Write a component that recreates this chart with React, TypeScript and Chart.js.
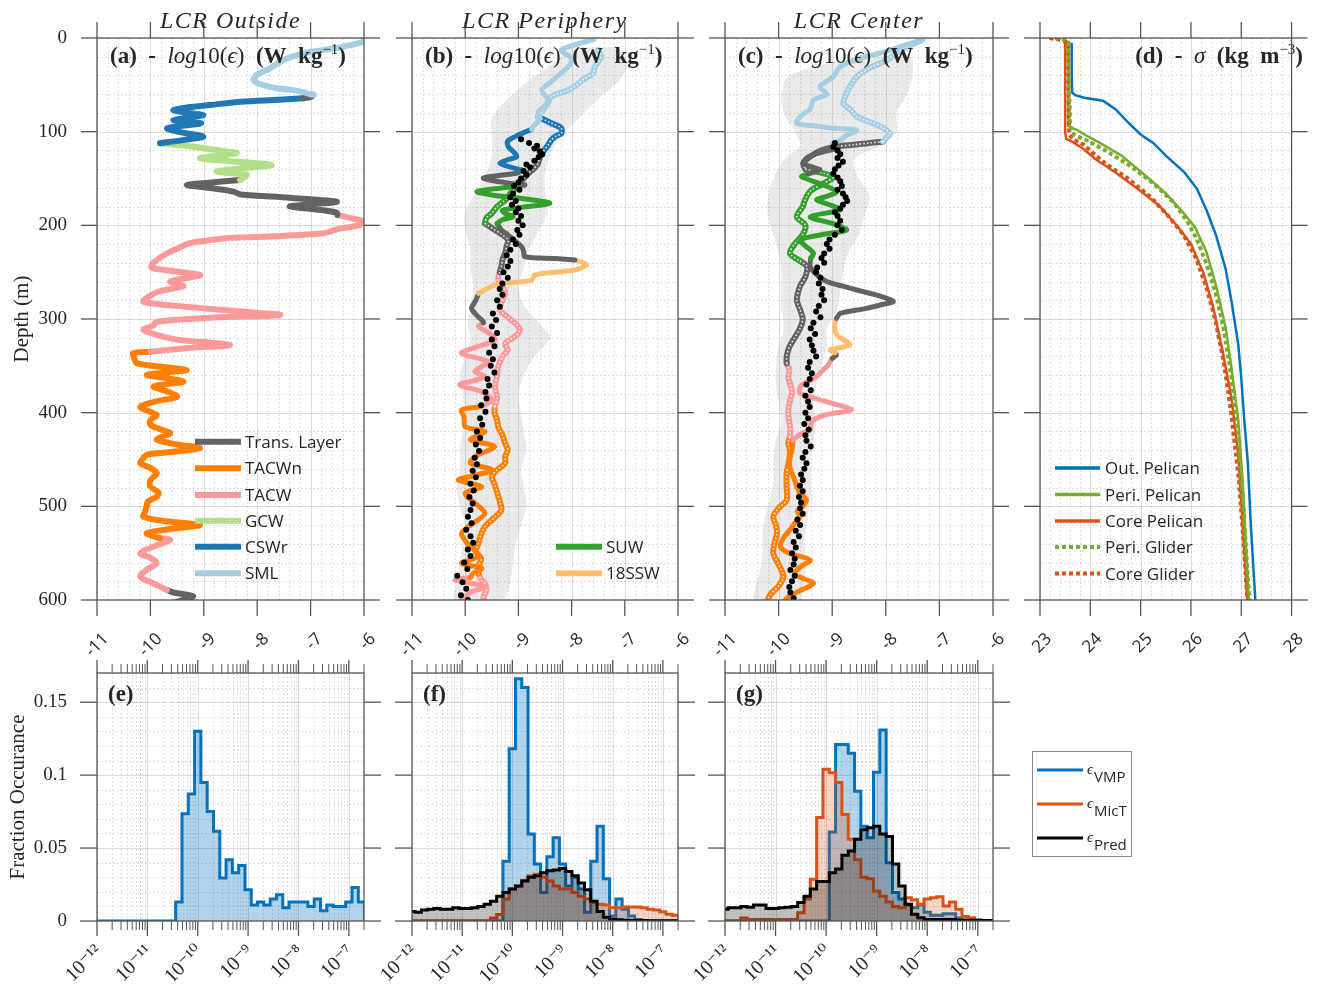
import React, { useEffect, useRef } from 'react';
import { Chart, registerables } from 'chart.js';

Chart.register(...registerables);

const W = 1327;
const H = 995;
const SERIF = "'Liberation Serif', 'DejaVu Serif', serif";
const SANS = "'Open Sans', 'Noto Sans', sans-serif";
const TEXT = '#262626';
const AXIS = '#555555';
const GRID_MAJOR = 'rgba(0,0,0,0.14)';
const GRID_MINOR = 'rgba(0,0,0,0.13)';

// water-mass colours
const C_TRANS = '#636363';
const C_TACWN = '#ff7f00';
const C_TACW = '#fb9a99';
const C_GCW = '#b2df8a';
const C_CSWR = '#1f78b4';
const C_SML = '#a6cee3';
const C_SUW = '#33a02c';
const C_SSW = '#fdbf6f';
const C_BLUE = '#0072BD';
const C_GREEN = '#77AC30';
const C_RED = '#D95319';

// ---------- axis ticks ----------
const EPS_TICKS = [-11, -10, -9, -8, -7, -6];
const DEPTH_TICKS = [0, 100, 200, 300, 400, 500, 600];
const SIGMA_TICKS = [23, 24, 25, 26, 27, 28];
const DECADE_TICKS = [-12, -11, -10, -9, -8, -7];
const FRAC_TICKS = [0, 0.05, 0.1, 0.15];

// ---------- panel (a) LCR Outside ----------
const A_SML_D = [4, 9.3, 12.8, 16.4, 23.5, 32.4, 39.5, 44.8, 49.1, 53.7, 56.2, 60.8];
const A_SML_E = [-6.0, -6.39, -6.76, -7.14, -7.51, -7.76, -8.01, -8.07, -7.95, -7.64, -7.26, -6.95];
const A_TR1_D = [60.8, 62.5, 64.4];
const A_TR1_E = [-6.95, -6.98, -7.14];
const A_CSWR_D = [64.4, 66, 68, 71.5, 74, 76.9, 79.5, 82.2, 85, 87.5, 89.5, 91, 93.5, 96.4, 100.5, 105.3, 109, 112.4];
const A_CSWR_E = [-7.14, -7.6, -8.3, -8.88, -9.3, -9.57, -9.35, -9.01, -9.3, -9.57, -9.35, -9.05, -9.35, -9.69, -9.45, -9.01, -9.4, -9.82];
const A_GCW_D = [112.4, 116, 120, 123, 126, 128.5, 131.5, 135.6, 139, 142.7, 146, 149, 151.6];
const A_GCW_E = [-9.82, -9.2, -8.7, -8.38, -8.8, -9.07, -8.5, -7.73, -8.3, -8.76, -8.2, -8.25, -8.32];
const A_TR2_D = [151.6, 154.5, 157, 160, 164, 167, 170.5, 174.7, 177.5, 180, 183, 186.5, 189];
const A_TR2_E = [-8.32, -8.9, -9.32, -8.9, -8.45, -8.3, -7.4, -6.51, -7.0, -7.39, -6.9, -6.51, -6.5];
const A_TACW1_D = [189, 193, 196, 200, 204, 208.5, 212, 214, 216, 219, 225, 230, 236, 240.5, 245, 248, 253, 257, 260, 263, 265, 270, 275, 281.5, 286, 292, 295.7, 298.5, 302.9, 307, 311.7, 317, 322, 327.7, 331, 335];
const A_TACW1_E = [-6.5, -6.2, -6.0, -6.1, -6.5, -6.76, -7.8, -8.63, -8.9, -9.26, -9.5, -9.69, -9.85, -9.95, -9.98, -9.7, -9.07, -9.4, -9.63, -9.5, -9.38, -9.8, -10.0, -10.13, -9.5, -8.3, -7.57, -8.8, -9.88, -9.95, -10.13, -9.88, -9.5, -8.51, -9.3, -10.0];
const A_TACWN_D = [335, 336.6, 342, 347, 351, 354.4, 357, 359.8, 363, 366.9, 369.5, 372.2, 377, 383, 388, 393.6, 398, 402.5, 408, 413, 418, 422, 426, 429, 434, 438, 442, 445, 450, 454, 459, 464.7, 472, 479, 485, 489.7, 495, 500, 506, 511, 516, 520, 524, 528.8, 534];
const A_TACWN_E = [-10.0, -10.32, -10.3, -10.26, -9.8, -9.32, -9.7, -10.07, -9.7, -9.38, -9.7, -9.94, -9.7, -9.5, -9.9, -10.19, -10.05, -9.88, -10.0, -10.0, -9.8, -9.63, -9.8, -9.88, -9.5, -9.07, -9.6, -10.07, -10.15, -10.19, -10.0, -9.88, -10.0, -10.0, -9.85, -9.88, -10.05, -10.07, -10.1, -10.13, -9.7, -9.07, -9.6, -10.07, -9.82];
const A_TACW2_D = [534, 536, 542, 550, 555, 560.8, 567, 575, 582, 589.3];
const A_TACW2_E = [-9.82, -9.63, -9.9, -10.19, -10.0, -9.88, -10.05, -10.19, -9.95, -9.69];
const A_TR3_D = [589.3, 592, 596, 600, 604];
const A_TR3_E = [-9.69, -9.57, -9.2, -9.4, -9.63];

// ---------- panel (b) LCR Periphery ----------
const B_SML_D = [1.4, 12.8, 22, 30.6, 40, 46.6, 55.5, 66.2, 72, 78.6, 86, 94.7, 97.5];
const B_SML_E = [-7.58, -8.19, -8.0, -8.06, -8.25, -8.38, -8.56, -8.44, -8.5, -8.63, -8.6, -8.72, -8.75];
const B_CSWR_D = [97.5, 101, 105.3, 110, 116, 121, 126.7, 130, 133.8, 137, 140.9];
const B_CSWR_E = [-8.75, -8.9, -9.06, -9.2, -9.19, -9.1, -9.03, -9.2, -9.35, -9.2, -8.94];
const B_TR1_D = [140.9, 143.8, 147, 149.8, 154.4, 157];
const B_TR1_E = [-8.94, -9.0, -9.4, -9.66, -9.25, -8.88];
const B_SUW_D = [157, 160, 164, 167.6, 172.2, 176.5, 180.8, 184, 187.2, 190.8, 194, 198];
const B_SUW_E = [-8.88, -9.3, -9.78, -9.5, -8.81, -8.41, -8.94, -9.3, -9.25, -9.1, -9.3, -9.4];
const B_TR2_D = [198, 205, 210, 215, 222.8, 228, 233.5, 235.5, 237];
const B_TR2_E = [-9.4, -9.32, -9.2, -9.1, -8.94, -8.9, -8.88, -8.3, -7.94];
const B_SSW_D = [237, 240, 242.3, 245, 247.7, 250, 253, 258.4, 261, 263.7, 268, 272.6];
const B_SSW_E = [-7.94, -7.78, -7.72, -7.8, -7.94, -8.3, -8.69, -8.75, -9.1, -9.44, -9.6, -9.75];
const B_TR3_D = [272.6, 280, 288.6, 295, 302.8, 304];
const B_TR3_E = [-9.75, -9.8, -9.88, -9.8, -9.66, -9.66];
const B_TACW1_D = [304, 308, 315, 322.4, 330, 336.6, 345.5, 351, 356.2, 361.6, 366, 370.4, 377.6, 386.5, 393.6];
const B_TACW1_E = [-9.66, -9.75, -9.55, -9.44, -9.8, -10.07, -9.57, -9.7, -9.82, -9.63, -9.85, -10.1, -9.69, -9.5, -9.69];
const B_TACWN_D = [393.6, 397, 405, 415, 420, 429, 436, 447, 454, 461, 468, 472, 479, 486, 495, 507.5, 518, 528.8, 540, 553, 560.8, 566, 571.5, 576];
const B_TACWN_E = [-9.69, -10.07, -10.02, -10.0, -9.63, -9.9, -9.45, -9.82, -9.9, -9.5, -9.9, -10.13, -9.69, -10.0, -9.85, -9.63, -9.85, -10.07, -9.95, -9.75, -10.07, -9.69, -9.85, -9.9];
const B_TACW2_D = [576, 578.6, 585.8, 592, 601.8];
const B_TACW2_E = [-9.9, -10.19, -9.63, -9.9, -10.1];

const BG_SML_D = [12.8, 20, 30.6, 38, 43, 50, 55.5, 62.6, 70, 78, 84];
const BG_SML_E = [-7.5, -7.45, -7.56, -7.6, -7.75, -7.9, -8.06, -8.38, -8.45, -8.55, -8.63];
const BG_CSWR_D = [84, 91, 96, 101.8, 105, 108.9, 115, 123];
const BG_CSWR_E = [-8.63, -8.38, -8.2, -8.19, -8.3, -8.38, -8.45, -8.56];
const BG_TR1_D = [123, 128, 133.8, 139, 144.5, 150, 156];
const BG_TR1_E = [-8.56, -8.6, -8.63, -8.7, -8.81, -8.9, -9.0];
const BG_SUW_D = [156, 160, 166, 173, 180, 187.2, 192, 197.9];
const BG_SUW_E = [-9.0, -9.06, -9.15, -9.25, -9.4, -9.5, -9.6, -9.63];
const BG_TR2_D = [197.9, 205, 210, 215.7, 222, 230, 237, 244, 250];
const BG_TR2_E = [-9.63, -9.44, -9.3, -9.19, -9.22, -9.25, -9.3, -9.32, -9.35];
const BG_TACW1_D = [250, 258.4, 265, 272.6, 280, 290, 298, 304.6, 310, 315.3, 320, 326, 333, 340, 350.9, 360, 372.2, 385, 393];
const BG_TACW1_E = [-9.35, -9.38, -9.3, -9.25, -9.3, -9.35, -9.2, -9.06, -8.98, -9.0, -9.1, -9.25, -9.2, -9.3, -9.38, -9.4, -9.44, -9.4, -9.44];
const BG_TACWN_D = [393, 400, 408, 415, 424, 432.7, 440, 447, 454, 461, 468.3, 476, 485, 495, 503.9, 512, 521.7, 530, 539.5, 548, 556, 564, 571.5];
const BG_TACWN_E = [-9.44, -9.45, -9.4, -9.38, -9.3, -9.25, -9.2, -9.25, -9.25, -9.4, -9.5, -9.45, -9.4, -9.35, -9.32, -9.45, -9.63, -9.7, -9.75, -9.8, -9.7, -9.75, -9.75];
const BG_TACW2_D = [571.5, 578, 582.2, 590, 596, 601.8];
const BG_TACW2_E = [-9.75, -9.7, -9.63, -9.6, -9.65, -9.66];

const B_BAND_D = [10, 25, 45, 65, 85, 105, 125, 145, 165, 185, 205, 225, 245, 265, 285, 305, 320, 340, 360, 380, 400, 420, 440, 460, 480, 500, 520, 540, 560, 580, 600];
const B_BAND_LO = [-8.0, -8.3, -8.8, -9.2, -9.5, -9.5, -9.5, -9.6, -9.8, -10.0, -10.0, -9.9, -9.9, -9.85, -9.9, -9.95, -9.9, -10.0, -10.1, -10.05, -10.0, -10.05, -10.1, -10.1, -10.15, -10.1, -10.0, -10.05, -10.1, -10.15, -10.2];
const B_BAND_HI = [-7.2, -6.95, -7.1, -7.5, -7.85, -8.2, -8.4, -8.5, -8.5, -8.45, -8.6, -8.8, -8.9, -9.0, -8.9, -8.6, -8.4, -8.7, -8.9, -9.0, -8.95, -8.9, -8.85, -8.95, -8.9, -8.85, -8.95, -9.05, -9.1, -9.15, -9.3];

const B_DOT_D = [108, 112, 115, 118, 121, 124, 127, 131, 135, 138, 142, 146, 150, 154, 158, 162, 166, 170, 174, 178, 182, 186, 190, 195, 200, 205, 210, 215, 220, 226, 232, 238, 244, 250, 256, 262, 268, 274, 280, 287, 294, 301, 308, 315, 322, 329, 336, 343, 350, 357, 364, 371, 378, 385, 392, 399, 406, 413, 420, 427, 434, 441, 448, 455, 462, 469, 476, 483, 490, 497, 504, 511, 518, 525, 532, 539, 546, 553, 560, 567, 574, 581, 588, 595, 600];
const B_DOT_E = [-8.95, -8.8, -8.65, -8.7, -8.6, -8.55, -8.62, -8.7, -8.85, -8.78, -8.9, -8.85, -8.95, -9.0, -9.08, -8.98, -9.1, -9.15, -9.05, -9.12, -9.0, -9.05, -8.95, -9.0, -8.92, -9.02, -8.98, -9.1, -9.05, -9.15, -9.22, -9.15, -9.2, -9.28, -9.2, -9.3, -9.35, -9.3, -9.4, -9.35, -9.48, -9.42, -9.5, -9.4, -9.5, -9.45, -9.55, -9.48, -9.52, -9.45, -9.58, -9.55, -9.62, -9.6, -9.7, -9.62, -9.72, -9.68, -9.78, -9.72, -9.8, -9.74, -9.82, -9.78, -9.86, -9.8, -9.9, -9.84, -9.92, -9.86, -9.9, -9.95, -9.88, -9.98, -9.9, -9.85, -9.95, -9.9, -10.02, -9.96, -10.15, -10.05, -9.98, -10.08, -9.95];

// ---------- panel (c) LCR Center ----------
const C_SML_D = [1.4, 9.2, 16, 21.7, 30.6, 41.3, 52, 60, 66.2, 75, 84, 91.1, 94, 96.4, 98.2, 103, 108.9, 112.5];
const C_SML_E = [-7.3, -7.73, -8.1, -8.48, -8.85, -8.98, -9.23, -9.1, -9.35, -9.4, -9.6, -9.66, -9.3, -8.98, -8.54, -8.7, -8.85, -8.98];
const C_CSWR_D = [112.5, 115];
const C_CSWR_E = [-8.98, -8.95];
const C_TR1_D = [115, 117.8, 122, 127, 133.8, 138, 140.9, 145];
const C_TR1_E = [-8.95, -8.92, -9.2, -9.45, -9.54, -9.35, -9.23, -9.45];
const C_SUW_D = [145, 148, 156, 164.1, 169, 173, 178, 183.6, 190.8, 198, 205, 210, 215.7, 222, 229.9, 235];
const C_SUW_E = [-9.45, -9.57, -9.2, -8.92, -9.1, -9.29, -9.05, -8.85, -9.41, -9.0, -8.73, -9.2, -9.6, -9.5, -9.35, -9.4];
const C_TR2_D = [235, 244.1, 252, 260, 265, 269, 274, 278, 281.5, 285, 288.6, 294, 299.3];
const C_TR2_E = [-9.4, -9.41, -9.3, -9.1, -8.8, -8.54, -8.2, -7.98, -7.86, -8.1, -8.36, -8.85, -8.92];
const C_SSW_D = [299.3, 305, 312, 318, 322, 327.7, 333, 336];
const C_SSW_E = [-8.92, -8.95, -8.95, -8.9, -8.79, -8.67, -9.04, -8.95];
const C_TR3_D = [336, 338.4, 342];
const C_TR3_E = [-8.95, -8.92, -9.0];
const C_TACW_D = [342, 350.9, 356, 361.6, 368, 373, 379.3, 385, 390, 397.1, 402, 407.8, 413, 418.5, 422, 425.6, 429.2];
const C_TACW_E = [-9.0, -9.1, -9.2, -9.29, -9.5, -9.6, -9.6, -9.3, -9.0, -8.64, -9.1, -9.35, -9.4, -9.41, -9.55, -9.66, -9.73];
const C_TACWN_D = [429.2, 440, 450, 457.6, 465, 472, 479, 486, 493.2, 500, 505, 511, 518, 525.3, 533, 543, 550, 557.3, 565, 572, 578, 582.2, 590, 596, 601.8];
const C_TACWN_E = [-9.73, -9.75, -9.8, -9.79, -9.75, -9.7, -9.66, -9.6, -9.48, -9.55, -9.65, -9.6, -9.7, -9.79, -9.9, -9.97, -9.8, -9.41, -9.6, -9.7, -9.5, -9.35, -9.6, -9.8, -9.91];

const CG_SML_D = [3, 12, 23.5, 32, 41.3, 50, 59, 69.7, 77, 84, 91.1, 96, 101.8, 106, 110.7];
const CG_SML_E = [-7.35, -7.7, -7.98, -8.3, -8.54, -8.65, -8.73, -8.79, -8.65, -8.54, -8.23, -8.05, -7.92, -7.98, -8.05];
const CG_TR1_D = [110.7, 112, 114, 116, 120, 126.7, 133.8, 140];
const CG_TR1_E = [-8.05, -8.3, -8.6, -8.92, -9.2, -9.41, -9.54, -9.5];
const CG_SUW_D = [140, 148, 155.2, 163, 172, 180, 190.8, 200, 210, 220, 229.9, 238];
const CG_SUW_E = [-9.5, -8.98, -9.16, -9.4, -9.5, -9.55, -9.66, -9.5, -9.55, -9.7, -9.79, -9.6];
const CG_TR2_D = [238, 244.1, 255, 265, 279.7, 290, 300, 310, 320, 330, 340, 347.3];
const CG_TR2_E = [-9.6, -9.47, -9.5, -9.6, -9.66, -9.6, -9.55, -9.6, -9.7, -9.8, -9.85, -9.85];
const CG_TACW_D = [347.3, 355, 362, 368.7, 378, 390, 400, 410, 418, 425.6];
const CG_TACW_E = [-9.85, -9.8, -9.82, -9.79, -9.75, -9.8, -9.82, -9.8, -9.78, -9.79];
const CG_TACWN_D = [425.6, 432, 440, 450, 464.7, 478, 493.2, 502, 511, 520, 528.8, 540, 550, 562, 575, 585, 594, 601.8];
const CG_TACWN_E = [-9.79, -9.82, -9.79, -9.8, -9.85, -9.85, -9.85, -10.0, -10.1, -10.05, -10.03, -10.08, -10.1, -10.0, -9.91, -10.0, -10.15, -10.22];

const C_BAND_D = [20, 40, 60, 80, 100, 115, 130, 150, 170, 190, 210, 230, 250, 270, 290, 310, 330, 350, 370, 390, 410, 430, 450, 470, 490, 510, 530, 550, 570, 590, 600];
const C_BAND_LO = [-8.6, -9.8, -9.95, -9.9, -9.7, -9.6, -9.9, -10.1, -10.2, -10.2, -10.1, -10.0, -9.95, -9.95, -9.95, -9.9, -10.0, -10.05, -10.05, -10.0, -9.95, -10.05, -10.1, -10.1, -10.15, -10.25, -10.3, -10.3, -10.35, -10.45, -10.45];
const C_BAND_HI = [-7.5, -7.5, -7.6, -7.8, -7.8, -8.1, -8.6, -8.5, -8.3, -8.4, -8.5, -8.7, -8.8, -8.85, -8.9, -9.1, -9.1, -9.2, -9.3, -9.35, -9.3, -9.35, -9.4, -9.4, -9.4, -9.45, -9.5, -9.5, -9.5, -9.55, -9.6];

const C_DOT_D = [112, 116, 120, 124, 128, 132, 136, 140, 145, 149, 153, 158, 162, 166, 170, 174, 178, 182, 186, 190, 195, 200, 205, 210, 215, 220, 225, 230, 235, 240, 245, 250, 256, 262, 268, 274, 280, 286, 292, 298, 304, 310, 316, 322, 328, 334, 340, 346, 352, 358, 364, 370, 376, 382, 388, 394, 400, 406, 412, 418, 424, 430, 436, 442, 448, 454, 460, 466, 472, 478, 484, 490, 496, 502, 508, 514, 520, 526, 532, 538, 544, 550, 556, 562, 568, 574, 580, 586, 592, 598];
const C_DOT_E = [-8.95, -8.98, -8.9, -8.85, -8.9, -8.8, -8.88, -8.95, -8.98, -8.9, -8.85, -8.82, -8.9, -8.8, -8.75, -8.72, -8.8, -8.85, -8.95, -8.9, -8.85, -8.9, -8.82, -8.95, -9.05, -9.1, -9.05, -9.15, -9.2, -9.15, -9.28, -9.3, -9.22, -9.25, -9.18, -9.2, -9.15, -9.25, -9.3, -9.22, -9.35, -9.4, -9.32, -9.42, -9.38, -9.35, -9.3, -9.42, -9.45, -9.38, -9.42, -9.48, -9.4, -9.5, -9.45, -9.42, -9.5, -9.45, -9.52, -9.44, -9.5, -9.48, -9.4, -9.5, -9.55, -9.48, -9.52, -9.58, -9.55, -9.6, -9.55, -9.62, -9.58, -9.6, -9.55, -9.65, -9.6, -9.68, -9.62, -9.72, -9.68, -9.75, -9.7, -9.72, -9.78, -9.7, -9.75, -9.8, -9.78, -9.72];

// ---------- panel (d) sigma ----------
const D_OUT_D = [5, 20, 40, 58, 61, 63.7, 67, 76, 90, 103, 112, 125.6, 143.5, 161, 184, 210.8, 246.6, 282.5, 327, 363, 408, 453, 520, 600];
const D_OUT_S = [23.63, 23.63, 23.63, 23.64, 23.7, 23.88, 24.25, 24.5, 24.75, 25.0, 25.25, 25.5, 25.87, 26.12, 26.31, 26.5, 26.69, 26.81, 26.94, 27.0, 27.06, 27.13, 27.19, 27.28];
const D_PERI_D = [3, 20, 50, 80, 94, 98.7, 105, 112, 125.6, 148, 166, 188, 202, 228.7, 264.6, 309, 354, 408, 475, 600];
const D_PERI_S = [23.56, 23.56, 23.56, 23.56, 23.57, 23.75, 23.95, 24.19, 24.62, 25.12, 25.5, 25.87, 26.08, 26.31, 26.5, 26.69, 26.81, 26.94, 27.03, 27.15];
const D_CORE_D = [3, 20, 60, 100, 107.6, 110, 118, 130, 143.5, 161, 179, 202, 219.7, 251, 287, 332, 385.6, 444, 520, 600];
const D_CORE_S = [23.5, 23.5, 23.5, 23.5, 23.52, 23.62, 23.85, 24.12, 24.5, 24.94, 25.37, 25.75, 26.0, 26.25, 26.44, 26.62, 26.81, 26.94, 27.03, 27.12];
const D_PERIG_D = [0, 2, 5, 30, 60, 90, 100, 104, 110, 120, 135, 155, 175, 195, 215, 240, 270, 310, 360, 420, 500, 600];
const D_PERIG_S = [23.3, 23.5, 23.56, 23.57, 23.58, 23.6, 23.62, 23.7, 23.95, 24.3, 24.75, 25.25, 25.65, 25.92, 26.12, 26.3, 26.48, 26.65, 26.8, 26.93, 27.04, 27.16];
const D_COREG_D = [0, 2, 5, 40, 80, 103, 108, 114, 125, 134.5, 150, 170, 190, 210, 235, 265, 300, 345, 400, 470, 540, 600];
const D_COREG_S = [23.19, 23.4, 23.56, 23.56, 23.57, 23.58, 23.65, 23.87, 24.1, 24.31, 24.75, 25.2, 25.55, 25.85, 26.1, 26.3, 26.48, 26.65, 26.8, 26.95, 27.05, 27.12];

// ---------- histograms (e)-(g): log10 bins of width 0.125 starting at 10^-12.0625 ----------
const BIN_START = -12.0625;
const BIN_WIDTH = 0.125;
const E_VMP = [0, 0, 0, 0, 0, 0, 0, 0, 0, 0, 0, 0, 0, 0.013, 0.0735, 0.087, 0.13, 0.095, 0.075, 0.0615, 0.0295, 0.042, 0.033, 0.038, 0.0215, 0.011, 0.013, 0.011, 0.015, 0.018, 0.009, 0.013, 0.013, 0.013, 0.01, 0.015, 0.007, 0.011, 0.01, 0.01, 0.013, 0.023, 0.013];
const F_VMP = [0, 0, 0, 0, 0, 0, 0, 0, 0, 0, 0, 0, 0, 0, 0, 0.041, 0.118, 0.166, 0.16, 0.0596, 0.039, 0.0195, 0.044, 0.057, 0.039, 0.024, 0.03, 0.022, 0.006, 0.041, 0.065, 0.029, 0.0035, 0.015, 0.008, 0.0035, 0.001, 0, 0, 0, 0, 0, 0];
const F_MICT = [0, 0, 0, 0, 0, 0, 0, 0, 0, 0, 0, 0, 0, 0.002, 0.0045, 0.015, 0.022, 0.024, 0.028, 0.031, 0.032, 0.03, 0.0275, 0.024, 0.022, 0.022, 0.0195, 0.017, 0.015, 0.0126, 0.0115, 0.011, 0.009, 0.009, 0.0096, 0.0096, 0.0096, 0.009, 0.008, 0.0075, 0.0064, 0.0046, 0.004];
const F_PRED = [0.0065, 0.006, 0.0075, 0.008, 0.0085, 0.008, 0.008, 0.009, 0.0085, 0.0085, 0.009, 0.01, 0.0115, 0.0135, 0.017, 0.0195, 0.022, 0.024, 0.0275, 0.03, 0.031, 0.033, 0.0345, 0.035, 0.036, 0.034, 0.031, 0.026, 0.0215, 0.0135, 0.0065, 0.0025, 0.0012, 0.0008, 0.0005, 0.0004, 0.0003, 0.0003, 0.0002, 0.0002, 0.0002, 0.0001, 0.0001];
const G_VMP = [0, 0, 0, 0, 0, 0, 0, 0, 0, 0, 0, 0, 0, 0, 0, 0, 0, 0.061, 0.121, 0.121, 0.115, 0.089, 0.065, 0.057, 0.102, 0.131, 0.04, 0.0195, 0.015, 0.011, 0.009, 0.011, 0.006, 0.004, 0.004, 0.005, 0.005, 0.002, 0.0005, 0, 0, 0, 0];
const G_MICT = [0, 0, 0, 0.002, 0.001, 0.001, 0.001, 0.001, 0.0008, 0.001, 0.001, 0.001, 0.0057, 0.015, 0.0287, 0.071, 0.104, 0.1016, 0.095, 0.073, 0.056, 0.042, 0.03, 0.029, 0.0206, 0.017, 0.013, 0.0099, 0.009, 0.016, 0.0145, 0.0115, 0.015, 0.016, 0.0167, 0.0103, 0.013, 0.008, 0.003, 0.0023, 0.0007, 0, 0];
const G_PRED = [0.008, 0.009, 0.009, 0.0099, 0.0095, 0.011, 0.011, 0.0085, 0.0085, 0.009, 0.0095, 0.0099, 0.0126, 0.017, 0.022, 0.027, 0.027, 0.033, 0.0356, 0.045, 0.048, 0.056, 0.0626, 0.064, 0.065, 0.0596, 0.058, 0.039, 0.024, 0.0115, 0.0046, 0.0023, 0.001, 0.001, 0.001, 0.001, 0.001, 0.0005, 0.0005, 0.0005, 0.0005, 0.0003, 0.0003];

// ---------- helpers ----------
type Pt = { x: number; y: number };
const prof = (depth: number[], vals: number[]): Pt[] => depth.map((d, i) => ({ x: vals[i], y: d }));

const solid = (depth: number[], vals: number[], color: string, width = 5, order = 3): any => ({
  data: prof(depth, vals), borderColor: color, borderWidth: width, pointRadius: 0, tension: 0.3,
  borderCapStyle: 'round', borderJoinStyle: 'round', fill: false, order,
});
const beads = (depth: number[], vals: number[], color: string): any[] => [
  { data: prof(depth, vals), borderColor: color, borderWidth: 6, pointRadius: 0, tension: 0.3, borderCapStyle: 'round', borderJoinStyle: 'round', fill: false, order: 7 },
  { data: prof(depth, vals), borderColor: 'rgba(255,255,255,0.85)', borderWidth: 1.6, borderDash: [1.5, 2.2], pointRadius: 0, tension: 0.3, fill: false, order: 6 },
];
const band = (depth: number[], lo: number[], hi: number[]): any => ({
  data: [...prof(depth, lo), ...prof([...depth].reverse(), [...hi].reverse())],
  borderWidth: 0, borderColor: 'rgba(0,0,0,0)', backgroundColor: 'rgba(175,175,175,0.26)', pointRadius: 0, tension: 0.3, fill: 'shape', order: 10,
});
const dots = (depth: number[], vals: number[]): any => ({
  data: prof(depth, vals), showLine: false, pointRadius: 3, pointBackgroundColor: '#000', pointBorderWidth: 0, order: 0,
});
const hist = (vals: number[], color: string, fillColor: string, order: number): any => ({
  data: [
    ...vals.map((v, i) => ({ x: Math.pow(10, BIN_START + i * BIN_WIDTH), y: v })),
    { x: Math.pow(10, BIN_START + vals.length * BIN_WIDTH), y: 0 },
  ],
  stepped: 'before', borderColor: color, backgroundColor: fillColor, borderWidth: 3, pointRadius: 0, fill: 'origin', order,
});

const SUPS: Record<string, string> = { '-': '⁻', '0': '⁰', '1': '¹', '2': '²', '3': '³', '4': '⁴', '5': '⁵', '6': '⁶', '7': '⁷', '8': '⁸', '9': '⁹' };
const decadeLabel = (v: any) => {
  const e = Math.log10(Number(v));
  const r = Math.round(e);
  if (Math.abs(e - r) > 1e-6 || !DECADE_TICKS.includes(r)) return '';
  return '10' + String(r).split('').map((c) => SUPS[c]).join('');
};
const fracLabel = (v: any) => {
  const n = Number(v);
  const hit = FRAC_TICKS.find((t) => Math.abs(t - n) < 1e-9);
  return hit === undefined ? '' : String(hit);
};

const range = (a: number, b: number, step: number, skip: number[]) => {
  const out: number[] = [];
  for (let v = a; v <= b + 1e-9; v += step) {
    const r = Math.round(v * 1000) / 1000;
    if (!skip.some((s) => Math.abs(s - r) < 1e-9)) out.push(r);
  }
  return out;
};
const logMinor = () => {
  const out: number[] = [];
  for (let e = -12; e <= -7; e++) for (let k = 2; k <= 9; k++) out.push(k * Math.pow(10, e));
  return out.filter((v) => v <= 2e-7);
};

type Run = { t: string; font: string; dy?: number };
type TextSpec = { x: number; y: number; runs: Run[]; align?: 'left' | 'right' | 'center'; spacing?: string };
type LegendItem = { label: string; color: string; width: number; dash?: number[]; sub?: string };
type LegendSpec = { x0: number; x1: number; tx: number; ys: number[]; items: LegendItem[]; box?: number[] };
type AxesSpec = {
  xMajor: number[]; xMinor: number[]; yMajor: number[]; yMinor: number[];
  xTick: number; xTopTick: number; xMinorTick: number; yTick: number;
  texts: TextSpec[]; legend?: LegendSpec;
};

function drawRuns(ctx: CanvasRenderingContext2D, t: TextSpec) {
  ctx.save();
  ctx.fillStyle = TEXT;
  ctx.textAlign = 'left';
  ctx.textBaseline = 'alphabetic';
  if (t.spacing) (ctx as any).letterSpacing = t.spacing;
  let total = 0;
  for (const r of t.runs) { ctx.font = r.font; total += ctx.measureText(r.t).width; }
  let x = t.align === 'right' ? t.x - total : t.align === 'center' ? t.x - total / 2 : t.x;
  for (const r of t.runs) {
    ctx.font = r.font;
    ctx.fillText(r.t, x, t.y + (r.dy || 0));
    x += ctx.measureText(r.t).width;
  }
  ctx.restore();
}

function axesPlugin(spec: AxesSpec) {
  return {
    id: 'matlabAxes',
    beforeDatasetsDraw(chart: any) {
      const { ctx, chartArea } = chart;
      const { left, right, top, bottom } = chartArea;
      const xs = chart.scales.x;
      const ys = chart.scales.y;
      ctx.save();
      ctx.beginPath();
      ctx.rect(left, top, right - left, bottom - top);
      ctx.clip();
      ctx.lineWidth = 1;
      const vline = (v: number) => { const p = Math.round(xs.getPixelForValue(v)) + 0.5; ctx.beginPath(); ctx.moveTo(p, top); ctx.lineTo(p, bottom); ctx.stroke(); };
      const hline = (v: number) => { const p = Math.round(ys.getPixelForValue(v)) + 0.5; ctx.beginPath(); ctx.moveTo(left, p); ctx.lineTo(right, p); ctx.stroke(); };
      ctx.strokeStyle = GRID_MINOR;
      ctx.setLineDash([2, 2]);
      spec.xMinor.forEach(vline);
      spec.yMinor.forEach(hline);
      ctx.setLineDash([]);
      ctx.strokeStyle = GRID_MAJOR;
      spec.xMajor.forEach(vline);
      spec.yMajor.forEach(hline);
      ctx.restore();
    },
    afterDatasetsDraw(chart: any) {
      const { ctx, chartArea } = chart;
      const { left, right, top, bottom } = chartArea;
      const xs = chart.scales.x;
      const ys = chart.scales.y;
      ctx.save();
      ctx.strokeStyle = AXIS;
      ctx.lineWidth = 1.3;
      ctx.strokeRect(left, top, right - left, bottom - top);
      const seg = (x1: number, y1: number, x2: number, y2: number) => { ctx.beginPath(); ctx.moveTo(x1, y1); ctx.lineTo(x2, y2); ctx.stroke(); };
      for (const v of spec.xMajor) {
        const p = xs.getPixelForValue(v);
        seg(p, bottom, p, bottom + spec.xTick);
        seg(p, top, p, top - spec.xTopTick);
      }
      if (spec.xMinorTick > 0) {
        ctx.lineWidth = 1;
        for (const v of spec.xMinor) {
          const p = xs.getPixelForValue(v);
          seg(p, bottom, p, bottom + spec.xMinorTick);
          seg(p, top, p, top - spec.xMinorTick);
        }
        ctx.lineWidth = 1.3;
      }
      for (const v of spec.yMajor) {
        const p = ys.getPixelForValue(v);
        seg(left - spec.yTick, p, left, p);
        seg(right, p, right + spec.yTick, p);
      }
      ctx.restore();

      for (const t of spec.texts) drawRuns(ctx, t);

      const lg = spec.legend;
      if (lg) {
        ctx.save();
        if (lg.box) {
          ctx.fillStyle = '#ffffff';
          ctx.fillRect(lg.box[0], lg.box[1], lg.box[2], lg.box[3]);
          ctx.strokeStyle = '#8a8a8a';
          ctx.lineWidth = 1;
          ctx.strokeRect(lg.box[0] + 0.5, lg.box[1] + 0.5, lg.box[2], lg.box[3]);
        }
        lg.items.forEach((it, i) => {
          const y = lg.ys[i];
          ctx.strokeStyle = it.color;
          ctx.lineWidth = it.width;
          ctx.setLineDash(it.dash || []);
          ctx.lineCap = 'butt';
          seg(lg.x0, y, lg.x1, y);
          ctx.setLineDash([]);
          ctx.fillStyle = TEXT;
          ctx.textAlign = 'left';
          ctx.textBaseline = 'alphabetic';
          if (it.sub) {
            ctx.font = `italic 15px ${SERIF}`;
            ctx.fillText(it.label, lg.tx, y + 4);
            const w = ctx.measureText(it.label).width;
            ctx.font = `15px ${SANS}`;
            ctx.fillText(it.sub, lg.tx + w + 1, y + 12);
          } else {
            ctx.font = `17px ${SANS}`;
            ctx.fillText(it.label, lg.tx, y + 6);
          }
        });
        ctx.restore();
      }
    },
  };
}

type Area = { l: number; t: number; r: number; b: number };
const padFor = (a: Area, wy: number, hx: number) => ({ left: a.l - wy, top: a.t, right: W - a.r, bottom: H - a.b - hx });

const B = (s: number) => `bold ${s}px ${SERIF}`;
const I = (s: number) => `italic ${s}px ${SERIF}`;
const N = (s: number) => `${s}px ${SERIF}`;
const epsRuns = (p: string): Run[] => [
  { t: `(${p})  -  `, font: B(23) }, { t: 'log', font: I(23) }, { t: '10(', font: N(23) }, { t: 'ϵ', font: I(23) }, { t: ')  ', font: N(23) },
  { t: '(W  kg', font: B(23) }, { t: '−1', font: N(15), dy: -9 }, { t: ')', font: B(23) },
];
const titleText = (s: string, cx: number): TextSpec => ({ x: cx, y: 28, align: 'center', spacing: '1.5px', runs: [{ t: s, font: I(24) }] });

function makeProfile(canvas: HTMLCanvasElement, area: Area, wy: number, datasets: any[], xmin: number, xmax: number, xTicks: number[], showY: boolean, texts: TextSpec[], legend?: LegendSpec) {
  const spec: AxesSpec = {
    xMajor: xTicks, xMinor: range(xmin, xmax, 0.2, xTicks), yMajor: DEPTH_TICKS, yMinor: range(0, 600, 20, DEPTH_TICKS),
    xTick: 16, xTopTick: 16, xMinorTick: 0, yTick: 16, texts, legend,
  };
  return new Chart(canvas, {
    type: 'line',
    data: { datasets },
    options: {
      responsive: false, animation: false, devicePixelRatio: 1, events: [],
      layout: { padding: padFor(area, wy, 60), autoPadding: false },
      plugins: { legend: { display: false }, tooltip: { enabled: false } },
      scales: {
        x: {
          type: 'linear', min: xmin, max: xmax, position: 'bottom',
          grid: { display: false }, border: { display: false },
          ticks: { stepSize: 1, autoSkip: false, minRotation: 45, maxRotation: 45, padding: 21, labelOffset: 9, color: TEXT, font: { family: SANS, size: 17 }, callback: (v: any) => String(v) },
          afterFit: (s: any) => { s.height = 60; },
        },
        y: {
          type: 'linear', min: 0, max: 600, reverse: true,
          grid: { display: false }, border: { display: false },
          ticks: { display: showY, stepSize: 100, padding: 22, color: TEXT, font: { family: SERIF, size: 19 } },
          title: { display: showY, text: 'Depth (m)', color: TEXT, font: { family: SERIF, size: 21 }, padding: 0 },
          afterFit: (s: any) => { s.width = wy; },
        },
      },
    } as any,
    plugins: [axesPlugin(spec) as any],
  });
}

function makeHist(canvas: HTMLCanvasElement, area: Area, wy: number, datasets: any[], showY: boolean, texts: TextSpec[], legend?: LegendSpec) {
  const spec: AxesSpec = {
    xMajor: DECADE_TICKS.map((e) => Math.pow(10, e)), xMinor: logMinor(),
    yMajor: FRAC_TICKS, yMinor: range(0, 0.17, 0.01, FRAC_TICKS),
    xTick: 15, xTopTick: 13, xMinorTick: 9, yTick: 17, texts, legend,
  };
  return new Chart(canvas, {
    type: 'line',
    data: { datasets },
    options: {
      responsive: false, animation: false, devicePixelRatio: 1, events: [],
      layout: { padding: padFor(area, wy, 60), autoPadding: false },
      plugins: { legend: { display: false }, tooltip: { enabled: false } },
      scales: {
        x: {
          type: 'logarithmic', min: 1e-12, max: 2e-7, position: 'bottom',
          grid: { display: false }, border: { display: false },
          ticks: { autoSkip: false, minRotation: 45, maxRotation: 45, padding: 11, labelOffset: 2, color: TEXT, font: { family: SERIF, size: 20 }, callback: decadeLabel },
          afterFit: (s: any) => { s.height = 60; },
        },
        y: {
          type: 'linear', min: 0, max: 0.17,
          grid: { display: false }, border: { display: false },
          ticks: { display: showY, stepSize: 0.05, padding: 22, color: TEXT, font: { family: SERIF, size: 19 }, callback: fracLabel },
          title: { display: showY, text: 'Fraction Occurance', color: TEXT, font: { family: SERIF, size: 21 }, padding: 0 },
          afterFit: (s: any) => { s.width = wy; },
        },
      },
    } as any,
    plugins: [axesPlugin(spec) as any],
  });
}

const AREA_A: Area = { l: 97, t: 38, r: 364, b: 600 };
const AREA_B: Area = { l: 412, t: 38, r: 678, b: 600 };
const AREA_C: Area = { l: 725, t: 38, r: 993, b: 600 };
const AREA_D: Area = { l: 1040, t: 38, r: 1307, b: 600 };
const AREA_E: Area = { l: 97, t: 673, r: 364, b: 921 };
const AREA_F: Area = { l: 412, t: 673, r: 678, b: 921 };
const AREA_G: Area = { l: 725, t: 673, r: 993, b: 921 };

const BUILDERS: ((c: HTMLCanvasElement) => Chart)[] = [
  (c) => makeProfile(c, AREA_A, 87, [
    solid(A_SML_D, A_SML_E, C_SML, 6), solid(A_TR1_D, A_TR1_E, C_TRANS, 6), solid(A_CSWR_D, A_CSWR_E, C_CSWR, 6),
    solid(A_GCW_D, A_GCW_E, C_GCW, 6), solid(A_TR2_D, A_TR2_E, C_TRANS, 6), solid(A_TACW1_D, A_TACW1_E, C_TACW, 6),
    solid(A_TACWN_D, A_TACWN_E, C_TACWN, 6), solid(A_TACW2_D, A_TACW2_E, C_TACW, 6), solid(A_TR3_D, A_TR3_E, C_TRANS, 6),
  ], -11, -6, EPS_TICKS, true,
  [titleText('LCR Outside', 230.5), { x: 110, y: 63, runs: epsRuns('a') }],
  { x0: 195, x1: 241, tx: 245, ys: [441.7, 468.3, 495, 520.7, 546.7, 573.3], items: [
    { label: 'Trans. Layer', color: C_TRANS, width: 6 }, { label: 'TACWn', color: C_TACWN, width: 6 },
    { label: 'TACW', color: C_TACW, width: 6 }, { label: 'GCW', color: C_GCW, width: 6 },
    { label: 'CSWr', color: C_CSWR, width: 6 }, { label: 'SML', color: C_SML, width: 6 },
  ] }),
  (c) => makeProfile(c, AREA_B, 60, [
    band(B_BAND_D, B_BAND_LO, B_BAND_HI),
    ...beads(BG_SML_D, BG_SML_E, C_SML), ...beads(BG_CSWR_D, BG_CSWR_E, C_CSWR), ...beads(BG_TR1_D, BG_TR1_E, C_TRANS),
    ...beads(BG_SUW_D, BG_SUW_E, C_SUW), ...beads(BG_TR2_D, BG_TR2_E, C_TRANS), ...beads(BG_TACW1_D, BG_TACW1_E, C_TACW),
    ...beads(BG_TACWN_D, BG_TACWN_E, C_TACWN), ...beads(BG_TACW2_D, BG_TACW2_E, C_TACW),
    solid(B_SML_D, B_SML_E, C_SML), solid(B_CSWR_D, B_CSWR_E, C_CSWR), solid(B_TR1_D, B_TR1_E, C_TRANS),
    solid(B_SUW_D, B_SUW_E, C_SUW), solid(B_TR2_D, B_TR2_E, C_TRANS), solid(B_SSW_D, B_SSW_E, C_SSW),
    solid(B_TR3_D, B_TR3_E, C_TRANS), solid(B_TACW1_D, B_TACW1_E, C_TACW), solid(B_TACWN_D, B_TACWN_E, C_TACWN),
    solid(B_TACW2_D, B_TACW2_E, C_TACW),
    dots(B_DOT_D, B_DOT_E),
  ], -11, -6, EPS_TICKS, false,
  [titleText('LCR Periphery', 545), { x: 425, y: 63, runs: epsRuns('b') }],
  { x0: 556, x1: 602, tx: 606, ys: [546.7, 573.3], items: [
    { label: 'SUW', color: C_SUW, width: 6 }, { label: '18SSW', color: C_SSW, width: 6 },
  ] }),
  (c) => makeProfile(c, AREA_C, 60, [
    band(C_BAND_D, C_BAND_LO, C_BAND_HI),
    ...beads(CG_SML_D, CG_SML_E, C_SML), ...beads(CG_TR1_D, CG_TR1_E, C_TRANS), ...beads(CG_SUW_D, CG_SUW_E, C_SUW),
    ...beads(CG_TR2_D, CG_TR2_E, C_TRANS), ...beads(CG_TACW_D, CG_TACW_E, C_TACW), ...beads(CG_TACWN_D, CG_TACWN_E, C_TACWN),
    solid(C_SML_D, C_SML_E, C_SML), solid(C_CSWR_D, C_CSWR_E, C_CSWR), solid(C_TR1_D, C_TR1_E, C_TRANS),
    solid(C_SUW_D, C_SUW_E, C_SUW), solid(C_TR2_D, C_TR2_E, C_TRANS), solid(C_SSW_D, C_SSW_E, C_SSW),
    solid(C_TR3_D, C_TR3_E, C_TRANS), solid(C_TACW_D, C_TACW_E, C_TACW), solid(C_TACWN_D, C_TACWN_E, C_TACWN),
    dots(C_DOT_D, C_DOT_E),
  ], -11, -6, EPS_TICKS, false,
  [titleText('LCR Center', 859), { x: 738, y: 63, runs: epsRuns('c') }]),
  (c) => makeProfile(c, AREA_D, 60, [
    { data: prof(D_OUT_D, D_OUT_S), borderColor: C_BLUE, borderWidth: 2.5, pointRadius: 0, tension: 0, fill: false, order: 3 },
    { data: prof(D_PERI_D, D_PERI_S), borderColor: C_GREEN, borderWidth: 2.5, pointRadius: 0, tension: 0, fill: false, order: 3 },
    { data: prof(D_CORE_D, D_CORE_S), borderColor: C_RED, borderWidth: 2.5, pointRadius: 0, tension: 0, fill: false, order: 3 },
    { data: prof(D_PERIG_D, D_PERIG_S), borderColor: C_GREEN, borderWidth: 4, borderDash: [4, 3], pointRadius: 0, tension: 0, fill: false, order: 1 },
    { data: prof(D_COREG_D, D_COREG_S), borderColor: C_RED, borderWidth: 4, borderDash: [4, 3], pointRadius: 0, tension: 0, fill: false, order: 1 },
  ], 23, 28, SIGMA_TICKS, false,
  [{ x: 1303, y: 63, align: 'right', runs: [
    { t: '(d)  -  ', font: B(23) }, { t: 'σ', font: I(23) }, { t: '  (kg  m', font: B(23) }, { t: '−3', font: N(15), dy: -9 }, { t: ')', font: B(23) },
  ] }],
  { x0: 1055, x1: 1100, tx: 1105, ys: [468, 494.5, 521, 547, 573.5], items: [
    { label: 'Out. Pelican', color: C_BLUE, width: 3.5 }, { label: 'Peri. Pelican', color: C_GREEN, width: 3.5 },
    { label: 'Core Pelican', color: C_RED, width: 3.5 }, { label: 'Peri. Glider', color: C_GREEN, width: 4, dash: [4, 3] },
    { label: 'Core Glider', color: C_RED, width: 4, dash: [4, 3] },
  ] }),
  (c) => makeHist(c, AREA_E, 91, [hist(E_VMP, C_BLUE, 'rgba(0,114,189,0.3)', 2)], true,
    [{ x: 108, y: 701, runs: [{ t: '(e)', font: B(23) }] }]),
  (c) => makeHist(c, AREA_F, 60, [
    hist(F_VMP, C_BLUE, 'rgba(0,114,189,0.3)', 2), hist(F_MICT, C_RED, 'rgba(217,83,25,0.25)', 1), hist(F_PRED, '#000000', 'rgba(0,0,0,0.25)', 0),
  ], false, [{ x: 423, y: 701, runs: [{ t: '(f)', font: B(23) }] }]),
  (c) => makeHist(c, AREA_G, 60, [
    hist(G_VMP, C_BLUE, 'rgba(0,114,189,0.3)', 2), hist(G_MICT, C_RED, 'rgba(217,83,25,0.25)', 1), hist(G_PRED, '#000000', 'rgba(0,0,0,0.25)', 0),
  ], false, [{ x: 736, y: 701, runs: [{ t: '(g)', font: B(23) }] }],
  { x0: 1037, x1: 1083, tx: 1087, ys: [770, 804, 838], box: [1032, 751, 99, 105], items: [
    { label: 'ϵ', sub: 'VMP', color: C_BLUE, width: 3 }, { label: 'ϵ', sub: 'MicT', color: C_RED, width: 3 },
    { label: 'ϵ', sub: 'Pred', color: '#000000', width: 3 },
  ] }),
];

function PanelCanvas({ build }: { build: (c: HTMLCanvasElement) => Chart }) {
  const ref = useRef<HTMLCanvasElement | null>(null);
  useEffect(() => {
    if (!ref.current) return;
    const chart = build(ref.current);
    return () => { chart.destroy(); };
  }, [build]);
  return <canvas ref={ref} width={W} height={H} style={{ position: 'absolute', left: 0, top: 0, width: W, height: H }} />;
}

export default function App() {
  return (
    <div style={{ position: 'fixed', left: 0, top: 0, width: W, height: H, background: '#ffffff', overflow: 'hidden' }}>
      {BUILDERS.map((b, i) => <PanelCanvas key={i} build={b} />)}
    </div>
  );
}
